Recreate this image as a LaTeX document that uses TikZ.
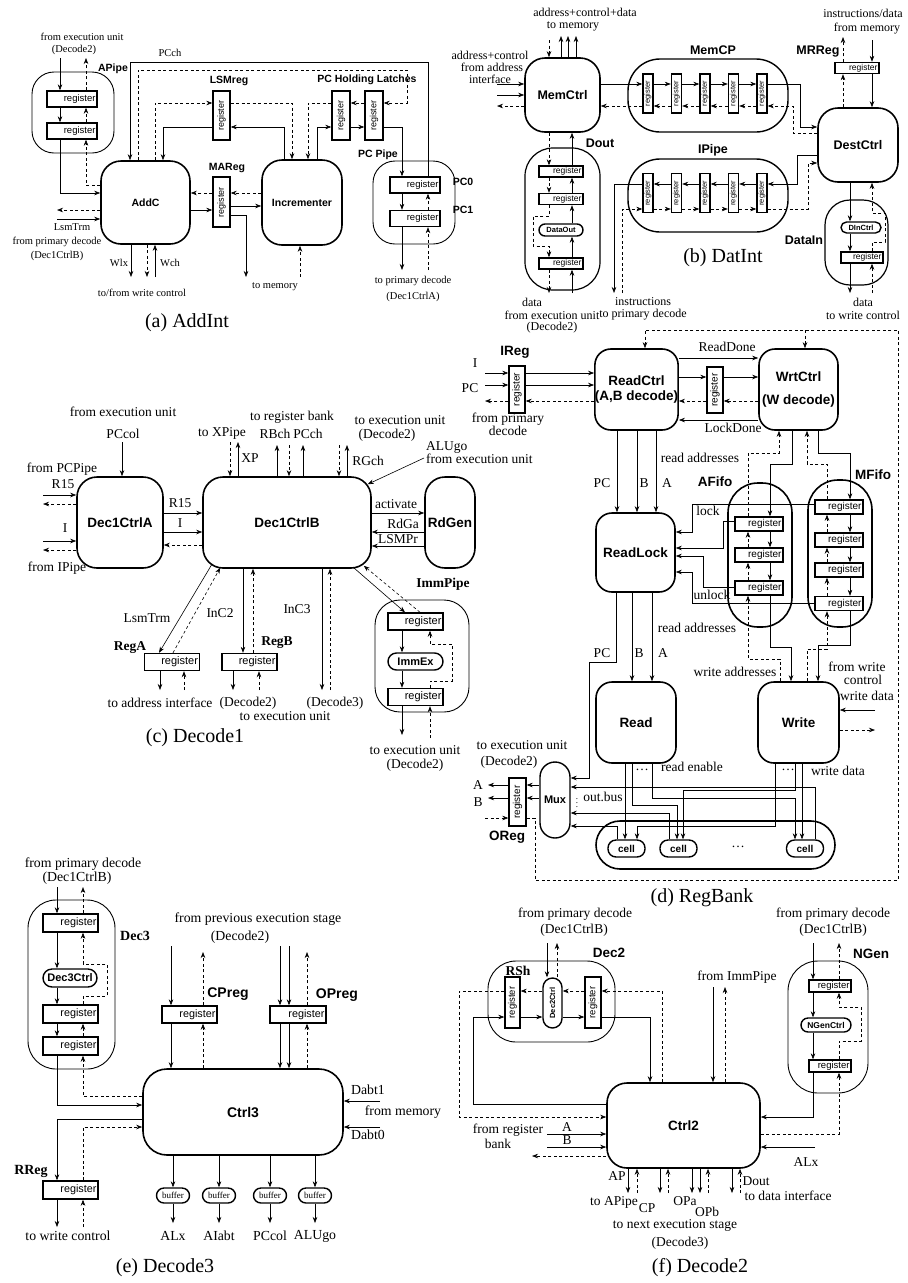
\documentclass[tikz,border=0pt]{standalone}
\usepackage{fontspec}
\setmainfont{Liberation Serif}
\setsansfont{Liberation Sans}
\usetikzlibrary{arrows.meta}
\newcommand{\fsz}[1]{\fontsize{#1}{#1}\selectfont}
\tikzset{
  arr/.style={-{Stealth[slant=0,length=6pt,width=4.5pt]}, line width=0.6pt},
  darr/.style={arr, dash pattern=on 3pt off 2.5pt},
  sz/.style 2 args={minimum width=#1pt, minimum height=#2pt},
  ctrl/.style={draw, line width=1.6pt, rounded corners=20pt, inner sep=0pt, align=center},
  pipe/.style={draw, line width=0.9pt, inner sep=0pt},
  hr/.style 2 args={draw, line width=1.4pt, inner xsep=1.5pt, inner ysep=0pt, align=right, regf, text width=#1pt, minimum height=#2pt},
  vreg/.style={draw, line width=1.4pt, inner sep=0pt, label={[rotate=90, vregf]center:register}},
  pill/.style={draw, line width=1.4pt, inner sep=0pt},
  captxt/.style={font=\fsz{20}, inner sep=0pt},
  lb/.style={font=\fsz{12}, inner sep=0pt, align=center},
  bs/.style={font=\sffamily\bfseries\fsz{12}, inner sep=0pt},
  bsr/.style={font=\bfseries\fsz{12}, inner sep=0pt},
  regf/.style={font=\sffamily\fsz{9}},
  vregf/.style={font=\sffamily\fsz{9}, inner sep=0pt},
}
\begin{document}
\begin{tikzpicture}[x=1pt,y=-1pt]
\useasboundingbox (0,0) rectangle (908,1283);

% ---------------- (a) AddInt
\begin{scope}[lb/.style={font=\fsz{10.5}, inner sep=0pt, align=center},
  bs/.style={font=\sffamily\bfseries\fsz{10.5}, inner sep=0pt},
  regf/.style={font=\sffamily\fsz{9.5}},
  vregf/.style={font=\sffamily\fsz{9}, inner sep=0pt}]
\node[pipe, rounded corners=22pt, sz={82}{81}] (apipe) at (73,112.5) {};
\node[bs] (apipelb) at (113,69) {APipe};
\node[hr={47}{16}] (ar1) at (72,99) {register};
\node[hr={47}{16}] (ar2) at (72,131) {register};
\node[ctrl, bs, sz={89}{83}] (addc) at (145.5,202.5) {AddC};
\node[vreg, sz={17}{49}] (lsmreg) at (221.5,115.5) {};
\node[bs] (lsmreglb) at (229,81) {LSMreg};
\node[vreg, sz={17}{50}] (mareg) at (221.5,202) {};
\node[bs] (mareglb) at (227,168) {MAReg};
\node[vreg, sz={18}{49}] (pchl1) at (341,115.5) {};
\node[vreg, sz={18}{49}] (pchl2) at (374,115.5) {};
\node[bs] (pchllb) at (367,80) {PC Holding Latches};
\node[ctrl, bs, sz={80}{85}] (incr) at (302,202.5) {Incrementer};
\node[pipe, rounded corners=22pt, sz={82}{83}] (pcpipe) at (414,202.5) {};
\node[bs] (pcpipelb) at (378,155) {PC Pipe};
\node[hr={47}{16}] (pc0) at (415,185) {register};
\node[hr={47}{16}] (pc1) at (415,218.5) {register};
\node[bs] (pc0lb) at (463,182) {PC0};
\node[bs] (pc1lb) at (463,210) {PC1};
\foreach \x/\y/\t [count=\i] in {82/37/from execution unit, 74/50/(Decode2), 170/53/PCch,
  72/227/LsmTrm, 57/242/from primary decode, 57/256/(Dec1CtrlB), 119/263/Wlx, 170/263/Wch,
  142/293/{to/from write control}, 275/287/to memory, 413/281/to primary decode, 413/297/(Dec1CtrlA)}
  \node[lb] (ta\i) at (\x,\y) {\t};
\node[captxt] (capa) at (187,323) {(a) AddInt};

\draw[arr] (60,58) -- (ar1.north -| 60,0);
\draw[arr] (ar1.south -| 60,0) -- (ar2.north -| 60,0);
\draw[arr] (ar2.south -| 60,0) |- (addc.west |- 0,193);
\draw[darr] (addc.west |- 0,185) -| (ar2.south -| 86,0);
\draw[darr] (ar2.north -| 86,0) -- (ar1.south -| 86,0);
\draw[darr] (ar1.north -| 86,0) -- (86,58);
\draw[darr] (addc.west |- 0,210) -- (57,210);
\draw[arr] (57,219) -- (addc.west |- 0,219);
\draw[arr] (addc.south -| 131,0) -- (131,277);
\draw[darr] (addc.south -| 147,0) -- (147,277);
\draw[arr] (155,277) -- (addc.south -| 155,0);
\draw[arr] (pc0.north -| 428,0) |- (130,62) -- (addc.north -| 130,0);
\draw[darr] (addc.north -| 138,0) |- (407,70) |- (pchl2.east |- 0,103);
\draw[darr] (addc.north -| 155,0) |- (lsmreg.west |- 0,103);
\draw[arr] (lsmreg.west |- 0,127) -| (addc.north -| 163,0);
\draw[darr] (lsmreg.east |- 0,103) -| (incr.north -| 292,0);
\draw[darr] (pchl1.west |- 0,103) -| (incr.north -| 308,0);
\draw[darr] (pchl2.west |- 0,103) -- (pchl1.east |- 0,103);
\draw[arr] (incr.north -| 284,0) |- (lsmreg.east |- 0,127);
\draw[arr] (incr.north -| 317,0) |- (pchl1.west |- 0,127);
\draw[arr] (pchl1.east |- 0,127) -- (pchl2.west |- 0,127);
\draw[arr] (pchl2.east |- 0,127) -| (pc0.north -| 402,0);
\draw[darr] (incr.west |- 0,193) -- (mareg.east |- 0,193);
\draw[darr] (mareg.west |- 0,193) -- (addc.east |- 0,193);
\draw[arr] (addc.east |- 0,210) -- (mareg.west |- 0,210);
\draw[arr] (mareg.east |- 0,206) -- (incr.west |- 0,206);
\draw[arr] (mareg.east |- 0,215) -| (246,277);
\draw[darr] (300,277) -- (incr.south -| 300,0);
\draw[arr] (pc0.south -| 402,0) -- (pc1.north -| 402,0);
\draw[arr] (pc1.south -| 402,0) -- (402,270);
\draw[darr] (428,270) -- (pc1.south -| 428,0);
\draw[darr] (pc1.north -| 428,0) -- (pc0.south -| 428,0);
\end{scope}

% ---------------- (b) DatInt
\begin{scope}[lb/.style={font=\fsz{12}, inner sep=0pt, align=center},
  bs/.style={font=\sffamily\bfseries\fsz{12.5}, inner sep=0pt},
  regf/.style={font=\sffamily\fsz{8.5}},
  vregf/.style={font=\sffamily\fsz{7.5}, inner sep=0pt}]
\node[ctrl, bs, sz={75}{74}] (memctrl) at (562.5,95) {MemCtrl};
\node[pipe, line width=1.4pt, rounded corners=32pt, sz={160}{73}] (memcp) at (708,95.5) {};
\node[bs] (memcplb) at (713,50) {MemCP};
\node[pipe, line width=1.4pt, rounded corners=32pt, sz={160}{73}] (ipipe) at (708,195.5) {};
\node[bs] (ipipelb) at (713,150) {IPipe};
\foreach \i/\x in {1/648,2/676.5,3/705,4/733.5,5/762} {
  \node[vreg, sz={10}{39}] (mc\i) at (\x,93.5) {};
  \node[vreg, sz={10}{39}] (ip\i) at (\x,193) {};
}
\node[ctrl, bs, sz={80}{74}] (destctrl) at (858,145) {DestCtrl};
\node[hr={41}{11}] (mrreg) at (857,68) {register};
\node[bs] (mrreglb) at (818,52) {MRReg};
\node[pipe, line width=1.2pt, rounded corners=25pt, sz={63}{85}] (datain) at (856.5,242.5) {};
\node[bs] (datainlb) at (804,240) {DataIn};
\node[pill, rounded corners=5.5pt, sz={40}{11}, font=\sffamily\bfseries\fsz{7.5}] (dinctrl) at (861,227.5) {DInCtrl};
\node[hr={39}{11}] (dir) at (862,257.5) {register};
\node[pipe, line width=1.2pt, rounded corners=28pt, sz={75}{142}] (dout) at (562.5,219) {};
\node[bs] (doutlb) at (600,143) {Dout};
\node[hr={41}{11}] (dor1) at (561,171.5) {register};
\node[hr={41}{11}] (dor2) at (561,199) {register};
\node[pill, rounded corners=6pt, sz={44}{12}, font=\sffamily\bfseries\fsz{7.5}] (dataout) at (561,230) {DataOut};
\node[hr={41}{11}] (dor3) at (561,263.5) {register};
\foreach \x/\y/\t [count=\i] in {585/12/address+control+data, 573/26/to memory,
  490/55/address+control, 492/67/from address, 490/79/interface,
  863/13/{instructions/data}, 867/29/from memory, 643/302/instructions, 643/315/to primary decode,
  863/302/data, 863/315/to write control, 532/302/data, 552/315/from execution unit, 552/328/(Decode2)}
  \node[lb] (tb\i) at (\x,\y) {\t};
\node[captxt] (capb) at (723,258) {(b) DatInt};

\draw[darr] (549,40) -- (memctrl.north -| 549,0);
\foreach \x in {561,568,576} \draw[arr] (memctrl.north -| \x,0) -- (\x,36);
\draw[arr] (497,84) -- (memctrl.west |- 0,84);
\draw[arr] (497,95) -- (memctrl.west |- 0,95);
\draw[darr] (memctrl.west |- 0,106) -- (497,106);
\draw[arr] (memctrl.east |- 0,84) -- (mc1.west |- 0,84);
\foreach \i/\j in {1/2,2/3,3/4,4/5} {
  \draw[arr] (mc\i.east |- 0,84) -- (mc\j.west |- 0,84);
  \draw[darr] (mc\j.west |- 0,106) -- (mc\i.east |- 0,106);
  \draw[arr] (ip\j.west |- 0,184) -- (ip\i.east |- 0,184);
  \draw[darr] (ip\i.east |- 0,209) -- (ip\j.west |- 0,209);
}
\draw[arr] (mc5.east |- 0,84) -| (800,127) -- (destctrl.west |- 0,127);
\draw[darr] (destctrl.west |- 0,133) -| (793,106) -- (mc5.east |- 0,106);
\draw[darr] (mc1.west |- 0,106) -- (memctrl.east |- 0,106);
\draw[arr] (destctrl.west |- 0,155) -| (797,184) -- (ip5.east |- 0,184);
\draw[arr] (ip1.west |- 0,184) -| (614,293);
\draw[darr] (622,293) |- (ip1.west |- 0,209);
\draw[darr] (ip5.east |- 0,209) -| (808,163) -- (destctrl.west |- 0,163);
\draw[arr] (872,40) -- (mrreg.north -| 872,0);
\draw[arr] (mrreg.south -| 872,0) -- (destctrl.north -| 872,0);
\draw[darr] (destctrl.north -| 843,0) -- (mrreg.south -| 843,0);
\draw[darr] (mrreg.north -| 843,0) -- (843,37);
\draw[arr] (destctrl.south -| 850,0) -- (dinctrl.north -| 850,0);
\draw[arr] (dinctrl.south -| 850,0) -- (dir.north -| 850,0);
\draw[arr] (dir.south -| 850,0) -- (850,293);
\draw[darr] (872,293) -- (dir.south -| 872,0);
\draw[darr] (dir.north -| 872,0) |- (885,242) |- (872,213) -- (destctrl.south -| 872,0);
\draw[arr] (572,293) -- (dor3.south -| 572,0);
\draw[arr] (dor3.north -| 572,0) -- (dataout.south -| 572,0);
\draw[arr] (dataout.north -| 572,0) -- (dor2.south -| 572,0);
\draw[arr] (dor2.north -| 572,0) -- (dor1.south -| 572,0);
\draw[arr] (dor1.north -| 572,0) -- (memctrl.south -| 572,0);
\draw[darr] (memctrl.south -| 549,0) -- (dor1.north -| 549,0);
\draw[darr] (dor1.south -| 549,0) -- (dor2.north -| 549,0);
\draw[darr] (dor2.south -| 549,0) |- (533,216) |- (549,246) -- (dor3.north -| 549,0);
\draw[darr] (dor3.south -| 549,0) -- (549,293);
\end{scope}

% ---------------- (c) Decode1
\begin{scope}[lb/.style={font=\fsz{13.5}, inner sep=0pt, align=center},
  bs/.style={font=\sffamily\bfseries\fsz{13.5}, inner sep=0pt},
  bsr/.style={font=\bfseries\fsz{13.5}, inner sep=0pt},
  regf/.style={font=\sffamily\fsz{11}}]
\node[ctrl, bs, sz={86}{91}] (dec1a) at (120,522.5) {Dec1CtrlA};
\node[ctrl, bs, sz={168}{91}] (dec1b) at (287,522.5) {Dec1CtrlB};
\node[ctrl, bs, sz={50}{91}] (rdgen) at (450,522.5) {RdGen};
\node[hr={52}{17}] (rega) at (172,662) {register};
\node[bsr] (regalb) at (130,648) {RegA};
\node[hr={52}{17}] (regb) at (249.5,662) {register};
\node[bsr] (regblb) at (277,643) {RegB};
\node[pipe, rounded corners=25pt, sz={94}{112}] (immpipe) at (422,656) {};
\node[bsr] (immpipelb) at (443,584) {ImmPipe};
\node[hr={52}{17}] (immr1) at (415.5,621.5) {register};
\node[pill, rounded corners=8.5pt, sz={55}{17}, font=\sffamily\bfseries\fsz{11}] (immex) at (415.5,661.5) {ImmEx};
\node[hr={52}{17}] (immr2) at (415.5,697) {register};
\foreach \x/\y/\t [count=\i] in {123/412/from execution unit, 123/434/PCcol, 62/469/from PCPipe,
  63/484/R15, 65/528/I, 57/568/from IPipe, 180/503/R15, 180/523/I, 222/433/to XPipe, 250/458/XP,
  292/417/to register bank, 275/434/RBch, 308/434/PCch, 400/420/to execution unit, 387/435/(Decode2),
  368/461/RGch, 396/504/activate, 403/524/RdGa, 398/539/LSMPr, 147/618/LsmTrm, 220/613/InC2,
  297/609/InC3, 160/703/to address interface, 248/703/(Decode2), 285/716/to execution unit,
  335/703/(Decode3), 415/750/to execution unit, 415/765/(Decode2)}
  \node[lb] (tc\i) at (\x,\y) {\t};
\node[lb, align=left, anchor=north west] (alugo) at (426,441) {ALUgo\\from execution unit};
\node[captxt] (capc) at (195,738) {(c) Decode1};

\draw[arr] (122,442) -- (dec1a.north -| 122,0);
\draw[arr] (43,495) -- (dec1a.west |- 0,495);
\draw[darr] (dec1a.west |- 0,504) -- (43,504);
\draw[arr] (43,541) -- (dec1a.west |- 0,541);
\draw[darr] (dec1a.west |- 0,550) -- (43,550);
\draw[arr] (dec1a.east |- 0,513) -- (dec1b.west |- 0,513);
\draw[arr] (dec1a.east |- 0,532) -- (dec1b.west |- 0,532);
\draw[darr] (dec1b.west |- 0,545) -- (dec1a.east |- 0,545);
\draw[darr] (230,442) -- (dec1b.north -| 230,0);
\draw[arr] (dec1b.north -| 238,0) -- (238,442);
\draw[arr] (dec1b.north -| 277,0) -- (277,445);
\draw[darr] (289,445) -- (dec1b.north -| 289,0);
\draw[arr] (dec1b.north -| 303,0) -- (303,445);
\draw[darr] (339,445) -- (dec1b.north -| 339,0);
\draw[arr] (dec1b.north -| 347,0) -- (347,445);
\draw[arr] (424,458) -- ([xshift=-4pt,yshift=-8pt]dec1b.north east);
\draw[arr] (dec1b.east |- 0,513) -- (rdgen.west |- 0,513);
\draw[arr] (rdgen.west |- 0,532) -- (dec1b.east |- 0,532);
\draw[arr] (rdgen.west |- 0,546) -- (dec1b.east |- 0,546);
\draw[arr] ([xshift=10pt,yshift=5pt]dec1b.south west) -- (rega.north -| 159,0);
\draw[darr] (rega.north -| 173,0) -- ([xshift=18pt,yshift=1pt]dec1b.south west);
\draw[arr] (rega.south -| 160,0) -- (160,690);
\draw[darr] (184,690) -- (rega.south -| 184,0);
\draw[arr] (dec1b.south -| 243,0) -- (regb.north -| 243,0);
\draw[darr] (regb.north -| 253,0) -- (dec1b.south -| 253,0);
\draw[arr] (regb.south -| 233,0) -- (233,690);
\draw[darr] (259,690) -- (regb.south -| 259,0);
\draw[arr] (dec1b.south -| 322,0) -- (322,690);
\draw[darr] (330,690) -- (dec1b.south -| 330,0);
\draw[arr] ([xshift=-18pt,yshift=1pt]dec1b.south east) -- (immr1.north -| 405,0);
\draw[darr] (immr1.north -| 420,0) -- ([xshift=-8pt,yshift=3pt]dec1b.south east);
\draw[arr] (immr1.south -| 402,0) -- (immex.north -| 402,0);
\draw[arr] (immex.south -| 402,0) -- (immr2.north -| 402,0);
\draw[arr] (immr2.south -| 402,0) -- (402,735);
\draw[darr] (430,738) -- (immr2.south -| 430,0);
\draw[darr] (immr2.north -| 430,0) |- (452,681) |- (430,644) -- (immr1.south -| 430,0);
\end{scope}

% ---------------- (d) RegBank
\begin{scope}[lb/.style={font=\fsz{13.5}, inner sep=0pt, align=center},
  bs/.style={font=\sffamily\bfseries\fsz{13.5}, inner sep=0pt},
  regf/.style={font=\sffamily\fsz{10}},
  vregf/.style={font=\sffamily\fsz{10}, inner sep=0pt},
  ctrl/.append style={rounded corners=16pt}]
\node[vreg, sz={16}{47}] (ireg) at (517,389.5) {};
\node[bs] (ireglb) at (515,352) {IReg};
\node[ctrl, bs, sz={81}{81}] (readctrl) at (636.5,389.5) {ReadCtrl\\[2pt](A,B decode)};
\node[ctrl, bs, sz={79}{81}] (wrtctrl) at (798.5,389.5) {WrtCtrl\\[9pt](W decode)};
\node[vreg, sz={16}{46}] (mreg) at (715,390) {};
\node[ctrl, bs, sz={79}{79}] (readlock) at (635.5,552.5) {ReadLock};
\node[pipe, line width=1.6pt, rounded corners=30pt, sz={64}{144}] (afifo) at (760,555) {};
\node[bs] (afifolb) at (715,482) {AFifo};
\node[hr={45}{14}] (af1) at (759,524) {register};
\node[hr={45}{14}] (af2) at (759,555) {register};
\node[hr={45}{14}] (af3) at (759,588) {register};
\node[pipe, line width=1.6pt, rounded corners=30pt, sz={64}{147}] (mfifo) at (840,553.5) {};
\node[bs] (mfifolb) at (873,475) {MFifo};
\node[hr={45}{14}] (mf1) at (839,507) {register};
\node[hr={45}{14}] (mf2) at (839,540) {register};
\node[hr={45}{14}] (mf3) at (839,570) {register};
\node[hr={45}{14}] (mf4) at (839,603.5) {register};
\node[ctrl, bs, sz={81}{81}] (write) at (798.5,722.5) {Write};
\node[ctrl, bs, sz={80}{81}] (read) at (636,722.5) {Read};
\node[pill, rounded corners=15pt, sz={30}{76}, font=\sffamily\bfseries\fsz{11}] (mux) at (555,800) {Mux};
\node[vreg, sz={17}{48}] (oreg) at (517.5,802) {};
\node[bs] (oreglb) at (507,837) {OReg};
\node[pill, line width=1.6pt, rounded corners=24pt, sz={239}{48}] (cells) at (715.5,845) {};
\foreach \i/\x in {1/626.5,2/678.5,3/805}
  \node[pill, rounded corners=8pt, sz={37}{17}, font=\sffamily\bfseries\fsz{10}] (cell\i) at (\x,848.5) {cell};
\foreach \x/\y/\t [count=\i] in {475/363/I, 470/388/PC, 508/419/from primary, 508/431/decode,
  727/347/ReadDone, 733/428/LockDone, 602/483/PC, 644/483/B, 667/483/A, 700/458/read addresses,
  708/511/lock, 712/595/unlock, 697/628/read addresses, 602/653/PC, 639/653/B, 663/653/A,
  735/672/write addresses, 857/667/from write, 863/680/control, 867/696/write data,
  522/745/to execution unit, 509/762/(Decode2), 478/785/A, 478/802/B, 603/797/out.bus,
  692/767/read enable, 838/771/write data, 642/770/\dots, 788/770/\dots, 738/847/\dots}
  \node[lb] (td\i) at (\x,\y) {\t};
\node[font=\fsz{9}, inner sep=0pt] (vdts) at (577,800) {$\vdots$};
\node[captxt] (capd) at (702,898) {(d) RegBank};

\draw[darr] (oreg.east |- 0,818) -| (535,880) -| (898,330) -| (readctrl.north -| 645,0);
\draw[darr] (805,330) -- (wrtctrl.north -| 805,0);
\draw[arr] (485,373) -- (ireg.west |- 0,373);
\draw[arr] (485,385) -- (ireg.west |- 0,385);
\draw[arr] (ireg.east |- 0,373) -- (readctrl.west |- 0,373);
\draw[arr] (ireg.east |- 0,385) -- (readctrl.west |- 0,385);
\draw[darr] (readctrl.west |- 0,401) -- (ireg.east |- 0,401);
\draw[darr] (ireg.west |- 0,401) -- (485,401);
\draw[arr] (readctrl.east |- 0,358) -- (wrtctrl.west |- 0,358);
\draw[arr] (readctrl.east |- 0,377) -- (mreg.west |- 0,377);
\draw[arr] (mreg.east |- 0,377) -- (wrtctrl.west |- 0,377);
\draw[darr] (wrtctrl.west |- 0,401) -- (mreg.east |- 0,401);
\draw[darr] (mreg.west |- 0,401) -- (readctrl.east |- 0,401);
\draw[arr] (wrtctrl.west |- 0,420) -- (readctrl.east |- 0,420);
\foreach \x in {617,637,656} \draw[arr] (readctrl.south -| \x,0) -- (readlock.north -| \x,0);
\draw[arr] (mf1.west |- 0,504) -| (692,532) -- (readlock.east |- 0,532);
\draw[arr] (af1.west |- 0,521) -| (723,548) -- (readlock.east |- 0,548);
\draw[arr] (af3.west |- 0,587) -| (703,556) -- (readlock.east |- 0,556);
\draw[arr] (mf4.west |- 0,603) -| (692,572) -- (readlock.east |- 0,572);
\draw[arr] (wrtctrl.south -| 792,0) |- (770,464) -- (af1.north -| 770,0);
\draw[arr] (af1.south -| 770,0) -- (af2.north -| 770,0);
\draw[arr] (af2.south -| 770,0) -- (af3.north -| 770,0);
\draw[arr] (af3.south -| 770,0) |- (791,647) -- (write.north -| 791,0);
\draw[darr] (af1.north -| 748,0) |- (779,453) -- (wrtctrl.south -| 779,0);
\draw[darr] (af2.north -| 748,0) -- (af1.south -| 748,0);
\draw[darr] (af3.north -| 748,0) -- (af2.south -| 748,0);
\draw[darr] (write.north -| 780,0) |- (748,659) -- (af3.south -| 748,0);
\draw[arr] (wrtctrl.south -| 818,0) |- (850,453) -- (mf1.north -| 850,0);
\foreach \i/\j in {1/2,2/3,3/4} {
  \draw[arr] (mf\i.south -| 850,0) -- (mf\j.north -| 850,0);
  \draw[darr] (mf\j.north -| 827,0) -- (mf\i.south -| 827,0);
}
\draw[arr] (mf4.south -| 850,0) |- (818,645) -- (write.north -| 818,0);
\draw[darr] (mf1.north -| 827,0) |- (807,464) -- (wrtctrl.south -| 807,0);
\draw[darr] (write.north -| 807,0) |- (827,649) -- (mf4.south -| 827,0);
\draw[arr] (875,710) -- (write.east |- 0,710);
\draw[darr] (write.east |- 0,730) -- (875,730);
\draw[arr] (readlock.south -| 632,0) -- (read.north -| 632,0);
\draw[arr] (readlock.south -| 652,0) -- (read.north -| 652,0);
\draw[arr] (readlock.south -| 616,0) |- (589,662) |- (mux.east |- 0,778);
\draw[arr] (mux.west |- 0,785) -- (oreg.east |- 0,785);
\draw[arr] (mux.west |- 0,798) -- (oreg.east |- 0,798);
\draw[arr] (oreg.west |- 0,785) -- (488,785);
\draw[arr] (oreg.west |- 0,798) -- (488,798);
\draw[darr] (485,818) -- (oreg.west |- 0,818);
\draw[arr] (cell3.north -| 815,0) |- (mux.east |- 0,787);
\draw[arr] (cell2.north -| 669,0) |- (mux.east |- 0,813);
\draw[arr] (cell1.north -| 617,0) |- (mux.east |- 0,826);
\draw[arr] (read.south -| 625,0) -- (cell1.north -| 625,0);
\draw[arr] (read.south -| 632,0) |- (677,805) -- (cell2.north -| 677,0);
\draw[arr] (read.south -| 652,0) |- (795,798) -- (cell3.north -| 795,0);
\draw[arr] (write.south -| 775,0) |- (637,826) -- (cell1.north -| 637,0);
\draw[arr] (write.south -| 795,0) |- (683,790) -- (cell2.north -| 683,0);
\draw[arr] (write.south -| 802,0) -- (cell3.north -| 802,0);
\end{scope}

% ---------------- (e) Decode3
\begin{scope}[lb/.style={font=\fsz{13.8}, inner sep=0pt, align=center},
  bs/.style={font=\sffamily\bfseries\fsz{14}, inner sep=0pt},
  bsr/.style={font=\bfseries\fsz{14}, inner sep=0pt},
  regf/.style={font=\sffamily\fsz{10.8}},
  ctrl/.append style={rounded corners=24pt}]
\node[pipe, rounded corners=28pt, sz={87}{169}] (dec3) at (71.5,984.5) {};
\node[bsr] (dec3lb) at (135,936) {Dec3};
\node[hr={52}{18}] (er1) at (70.5,923) {register};
\node[pill, rounded corners=9pt, sz={54}{18}, font=\sffamily\bfseries\fsz{11}] (dec3ctrl) at (70,978) {Dec3Ctrl};
\node[hr={52}{18}] (er2) at (70.5,1014) {register};
\node[hr={52}{18}] (er3) at (70.5,1046) {register};
\node[ctrl, bs, sz={200}{86}] (ctrl3) at (243,1112) {Ctrl3};
\node[hr={52}{17}] (cpreg) at (189.5,1014.5) {register};
\node[bs] (cpreglb) at (228,994) {CPreg};
\node[hr={53}{17}] (opreg) at (298,1014.5) {register};
\node[bs] (opreglb) at (337,995) {OPreg};
\node[hr={52}{18}] (rreg) at (70.5,1190) {register};
\node[bsr] (rreglb) at (31,1171) {RReg};
\foreach \x/\y/\t [count=\i] in {83/864/from primary decode, 77/878/(Dec1CtrlB),
  258/919/from previous execution stage, 240/937/(Decode2), 368/1090/Dabt1, 403/1112/from memory,
  368/1135/Dabt0, 68/1236/to write control}
  \node[lb] (te\i) at (\x,\y) {\t};
\foreach \i/\x/\t in {1/173/ALx, 2/219/AIabt, 3/270/PCcol, 4/315/ALUgo} {
  \node[pill, rounded corners=7.5pt, sz={33}{15}, font=\fsz{9}] (buf\i) at (\x,1195.5) {buffer};
  \draw[arr] (ctrl3.south -| \x,0) -- (buf\i.north);
  \draw[arr] (buf\i.south) -- (\x,1223);
  \node[lb] (bo\i) at (\x,1236) {\t};
}
\node[captxt] (cape) at (165,1268) {(e) Decode3};

\draw[arr] (57,887) -- (er1.north -| 57,0);
\draw[arr] (er1.south -| 57,0) -- (dec3ctrl.north -| 57,0);
\draw[arr] (dec3ctrl.south -| 57,0) -- (er2.north -| 57,0);
\draw[arr] (er2.south -| 57,0) -- (er3.north -| 57,0);
\draw[arr] (er3.south -| 57,0) |- (ctrl3.west |- 0,1105);
\draw[darr] (ctrl3.west |- 0,1096) -| (er3.south -| 83,0);
\draw[darr] (er3.north -| 83,0) -- (er2.south -| 83,0);
\draw[darr] (er2.north -| 83,0) |- (107,996) |- (83,964) -- (er1.south -| 83,0);
\draw[darr] (er1.north -| 83,0) -- (83,887);
\draw[arr] (171,946) -- (cpreg.north -| 171,0);
\draw[arr] (cpreg.south -| 171,0) -- (ctrl3.north -| 171,0);
\draw[darr] (ctrl3.north -| 203,0) -- (cpreg.south -| 203,0);
\draw[darr] (cpreg.north -| 203,0) -- (203,952);
\foreach \x in {280,289} {
  \draw[arr] (\x,946) -- (opreg.north -| \x,0);
  \draw[arr] (opreg.south -| \x,0) -- (ctrl3.north -| \x,0);
}
\draw[darr] (ctrl3.north -| 307,0) -- (opreg.south -| 307,0);
\draw[darr] (opreg.north -| 307,0) -- (307,952);
\draw[arr] (380,1101) -- (ctrl3.east |- 0,1101);
\draw[arr] (380,1127) -- (ctrl3.east |- 0,1127);
\draw[arr] (ctrl3.west |- 0,1119) -| (rreg.north -| 57,0);
\draw[arr] (rreg.south -| 57,0) -- (57,1227);
\draw[darr] (83,1227) -- (rreg.south -| 83,0);
\draw[darr] (rreg.north -| 83,0) |- (ctrl3.west |- 0,1127);
\end{scope}

% ---------------- (f) Decode2
\begin{scope}[lb/.style={font=\fsz{13.5}, inner sep=0pt, align=center},
  bs/.style={font=\sffamily\bfseries\fsz{13.5}, inner sep=0pt},
  bsr/.style={font=\bfseries\fsz{13.5}, inner sep=0pt},
  regf/.style={font=\sffamily\fsz{9.5}},
  vregf/.style={font=\sffamily\fsz{9.5}, inner sep=0pt}]
\node[pipe, rounded corners=28pt, sz={127}{81}] (dec2) at (551.5,1001.5) {};
\node[bs] (dec2lb) at (609,953) {Dec2};
\node[bsr] (rshlb) at (518,971) {RSh};
\node[vreg, sz={15}{51}] (rsh) at (512.5,1002.5) {};
\node[pill, rounded corners=9.5pt, sz={19}{50}, label={[rotate=90, font=\sffamily\bfseries\fsz{7.5}, inner sep=0pt]center:Dec2Ctrl}] (dec2ctrl) at (552.5,1003) {};
\node[vreg, sz={16}{51}] (fr) at (593,1002.5) {};
\node[ctrl, bs, sz={153}{85}] (ctrl2) at (683.5,1125.5) {Ctrl2};
\node[pipe, rounded corners=30pt, sz={80}{132}] (ngen) at (828,1027) {};
\node[bs] (ngenlb) at (871,954) {NGen};
\node[hr={39}{12}] (nr1) at (830,986) {register};
\node[pill, rounded corners=7pt, sz={50}{14}, font=\sffamily\bfseries\fsz{8.5}] (ngenctrl) at (826,1025) {NGenCtrl};
\node[hr={39}{12}] (nr2) at (830,1066) {register};
\foreach \x/\y/\t [count=\i] in {575/914/from primary decode, 574/930/(Dec1CtrlB),
  508/1130/from register, 498/1144/bank, 567/1127/A, 567/1140/B, 617/1176/AP, 614/1202/to APipe,
  647/1208/CP, 685/1201/OPa, 707/1212/OPb, 756/1181/Dout, 788/1196/to data interface,
  675/1225/to next execution stage, 680/1243/(Decode3), 737/977/from ImmPipe,
  833/914/from primary decode, 833/930/(Dec1CtrlB), 806/1162/ALx}
  \node[lb] (tf\i) at (\x,\y) {\t};
\node[captxt] (capf) at (700,1268) {(f) Decode2};

\draw[arr] (547,943) -- (dec2ctrl.north -| 547,0);
\draw[darr] (dec2ctrl.north -| 557,0) -- (557,943);
\draw[darr] (ctrl2.north -| 662,0) |- (fr.east |- 0,991);
\draw[darr] (fr.west |- 0,991) -- (dec2ctrl.east |- 0,991);
\draw[darr] (dec2ctrl.west |- 0,991) -- (rsh.east |- 0,991);
\draw[darr] (rsh.west |- 0,991) -| (459,1117) -- (ctrl2.west |- 0,1117);
\draw[arr] (ctrl2.west |- 0,1104) -| (473,1017) -- (rsh.west |- 0,1017);
\draw[arr] (rsh.east |- 0,1017) -- (dec2ctrl.west |- 0,1017);
\draw[arr] (dec2ctrl.east |- 0,1017) -- (fr.west |- 0,1017);
\draw[arr] (fr.east |- 0,1017) -| (ctrl2.north -| 650,0);
\draw[arr] (547,1134) -- (ctrl2.west |- 0,1134);
\draw[arr] (547,1147) -- (ctrl2.west |- 0,1147);
\draw[darr] (ctrl2.west |- 0,1156) -- (532,1156);
\foreach \x in {628,660,692,700,732} \draw[arr] (ctrl2.south -| \x,0) -- (\x,1193);
\foreach \x in {637,668,708,740} \draw[darr] (\x,1193) -- (ctrl2.south -| \x,0);
\draw[arr] (713,987) -- (ctrl2.north -| 713,0);
\draw[darr] (ctrl2.north -| 725,0) -- (725,987);
\draw[arr] (813,943) -- (nr1.north -| 813,0);
\draw[arr] (nr1.south -| 813,0) -- (ngenctrl.north -| 813,0);
\draw[arr] (ngenctrl.south -| 813,0) -- (nr2.north -| 813,0);
\draw[arr] (nr2.south -| 813,0) |- (ctrl2.east |- 0,1117);
\draw[darr] (ctrl2.east |- 0,1134) -| (nr2.south -| 839,0);
\draw[darr] (nr2.north -| 839,0) |- (861,1041) |- (839,1007) -- (nr1.south -| 839,0);
\draw[darr] (nr1.north -| 839,0) -- (839,943);
\draw[arr] (815,1147) -- (ctrl2.east |- 0,1147);
\end{scope}
\end{tikzpicture}
\end{document}
